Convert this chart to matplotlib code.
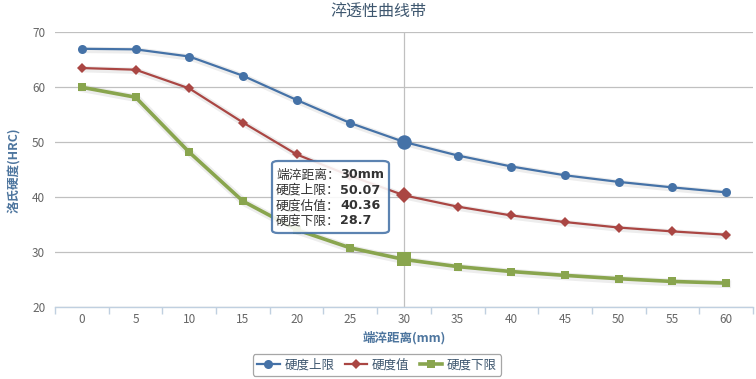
import matplotlib
matplotlib.use("Agg")
import matplotlib.pyplot as plt
import matplotlib.patheffects as pe
from matplotlib.patches import FancyBboxPatch
from matplotlib.lines import Line2D

plt.rcParams['font.family'] = ['Noto Sans CJK SC', 'DejaVu Sans']

title = "淬透性曲线带"
x_label = "端淬距离(mm)"
y_label = "洛氏硬度(HRC)"
distances = [0, 5, 10, 15, 20, 25, 30, 35, 40, 45, 50, 55, 60]
upper = [67.0, 66.9, 65.6, 62.1, 57.7, 53.5, 50.07, 47.6, 45.6, 44.0, 42.8, 41.8, 40.9]
estimate = [63.5, 63.2, 59.8, 53.6, 47.8, 43.9, 40.36, 38.3, 36.7, 35.5, 34.5, 33.8, 33.2]
lower = [60.0, 58.2, 48.2, 39.3, 34.1, 30.8, 28.7, 27.4, 26.5, 25.8, 25.2, 24.7, 24.4]
series_names = ["硬度上限", "硬度值", "硬度下限"]
tooltip_labels = ["端淬距离：", "硬度上限：", "硬度估值：", "硬度下限："]
tooltip_values = ["30mm", "50.07", "40.36", "28.7"]
hover_index = 6

W, H = 756, 379
fig = plt.figure(figsize=(W / 100, H / 100), dpi=100)
L, R, T, B = 55, 753, 32.3, 307.3
ax = fig.add_axes([L / W, 1 - B / H, (R - L) / W, (B - T) / H])

ax.set_xlim(-2.5, 62.5)
ax.set_ylim(20, 70)
ax.set_yticks([20, 30, 40, 50, 60, 70])
ax.set_xticks(distances)
ax.set_xticks([d - 2.5 for d in distances] + [62.5], minor=True)
ax.tick_params(axis='x', which='major', length=0, pad=4, labelsize=8.5, labelcolor='#666666')
ax.tick_params(axis='x', which='minor', length=5, color='#C0D0E0', width=1)
ax.tick_params(axis='y', length=0, pad=7, labelsize=8.5, labelcolor='#666666')
for s in ['top', 'right', 'left']:
    ax.spines[s].set_visible(False)
ax.spines['bottom'].set_color('#C0D0E0')
ax.spines['bottom'].set_linewidth(1)
ax.grid(axis='y', color='#C0C0C0', linewidth=0.9)
ax.set_axisbelow(True)

# crosshair
ax.axvline(distances[hover_index], color='#C0C0C0', linewidth=0.9, zorder=1)

specs = [
    (upper, '#4572A7', 'o', 6.5, 1.6),
    (estimate, '#AA4643', 'D', 5.0, 1.6),
    (lower, '#89A54E', 's', 6.0, 2.6),
]
for (vals, col, mk, ms, lw), name in zip(specs, series_names):
    shadow = [pe.SimpleLineShadow(offset=(0.8, -0.8), alpha=0.07, linewidth=lw + 3),
              pe.Normal()]
    ax.plot(distances, vals, color=col, linewidth=lw, path_effects=shadow, zorder=3)
    ax.plot(distances, vals, color=col, marker=mk, markersize=ms, linestyle='none',
            markeredgewidth=0, zorder=4)
    ax.plot([distances[hover_index]], [vals[hover_index]], color=col, marker=mk,
            markersize=ms * 1.6, markeredgewidth=0, zorder=5)

fig.text(378 / W, 1 - 12 / H, title, ha='center', va='center', fontsize=11.5, color='#3E576F')
fig.text(404 / W, 1 - 338 / H, x_label, ha='center', va='center', fontsize=9,
         fontweight='bold', color='#4D759E')
fig.text(15 / W, 1 - 170 / H, y_label, ha='center', va='center', fontsize=9,
         fontweight='bold', color='#4D759E', rotation=90)

# tooltip
bx0, by0, bx1, by1 = 272, 161, 389, 233
box = FancyBboxPatch((bx0 / W, 1 - by1 / H), (bx1 - bx0) / W, (by1 - by0) / H,
                     boxstyle="round,pad=0,rounding_size=0.008", transform=fig.transFigure,
                     facecolor='white', alpha=0.88, edgecolor='#4572A7', linewidth=1.6,
                     zorder=10)
fig.patches.append(box)
for i, (lab, val) in enumerate(zip(tooltip_labels, tooltip_values)):
    yy = 1 - (175 + i * 15.3) / H
    fig.text(276 / W, yy, lab, ha='left', va='center', fontsize=9.2, color='#333333', zorder=11)
    fig.text(340 / W, yy, val, ha='left', va='center', fontsize=9.2, color='#333333',
             fontweight='bold', zorder=11, family=['DejaVu Sans'])

# legend
handles = [Line2D([], [], color=c, marker=m, markersize=ms, linewidth=lw, markeredgewidth=0)
           for (v, c, m, ms, lw) in specs]
leg = fig.legend(handles, series_names, loc='center', bbox_to_anchor=(377 / W, 1 - 365 / H),
                 ncol=3, fontsize=9, frameon=True, handlelength=1.8, handletextpad=0.4,
                 columnspacing=0.8, borderpad=0.35, fancybox=True)
leg.get_frame().set_edgecolor('#909090')
leg.get_frame().set_linewidth(0.9)
for t in leg.get_texts():
    t.set_color('#3E576F')

fig.savefig('out.png', dpi=100)
